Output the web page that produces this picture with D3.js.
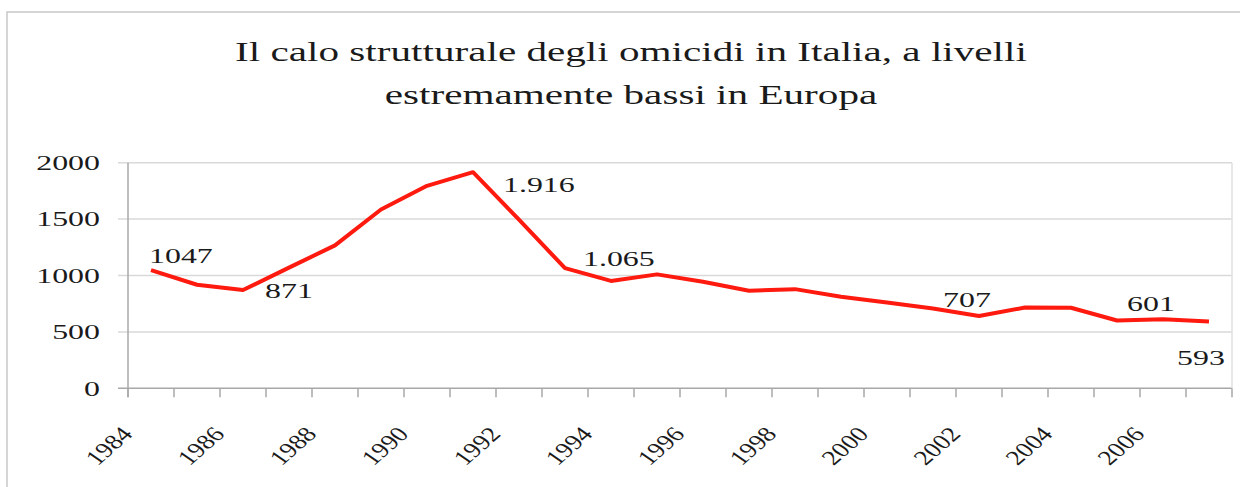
<!DOCTYPE html>
<html>
<head>
<meta charset="utf-8">
<script src="https://cdn.jsdelivr.net/npm/d3@7"></script>
<style>
  body { margin: 0; background: #fff; }
  svg text { font-family: "Liberation Serif", "Times New Roman", serif; fill: #1a1a1a; }
</style>
</head>
<body>
<div id="chart"></div>
<script>
// data
const years = d3.range(1984, 2008);
const homicides = [1047, 918, 871, 1070, 1267, 1585, 1795, 1916, 1495, 1065, 952, 1010, 945, 865, 879, 812, 760, 707, 641, 716, 714, 601, 612, 593];
const yTicks = [0, 500, 1000, 1500, 2000];
const xLabelYears = years.filter(y => y % 2 === 0);
const labelYears = [1984, 1986, 1991, 1993, 2001, 2005, 2007];
const labelTexts = ['1047', '871', '1.916', '1.065', '707', '601', '593'];
const titleLines = ['Il calo strutturale degli omicidi in Italia, a livelli', 'estremamente bassi in Europa'];

// label offsets from the point (left x, baseline y)
const labelOffsets = [[-2, -7], [22, 8], [30, 20], [18, -2], [10, -2], [10, -10], [-32, 44]];

const W = 1240, H = 487;
const sx = 1.45; // the picture is stretched sideways
const plot = {left: 128, right: 1232, top: 162.7, bottom: 388.3};

const svg = d3.select('#chart').append('svg')
    .attr('width', W)
    .attr('height', H);

// outer frame
svg.append('rect')
    .attr('x', 7).attr('y', 12)
    .attr('width', W + 20).attr('height', H + 20)
    .attr('fill', 'none')
    .attr('stroke', '#c8c8c8')
    .attr('stroke-width', 1.5);

// title
svg.selectAll('.title')
    .data(titleLines)
    .enter()
    .append('text')
    .attr('class', 'title')
    .attr('transform', (d, i) => 'translate(631,' + (61 + i * 43) + ') scale(1.47,1)')
    .attr('text-anchor', 'middle')
    .attr('font-size', 28)
    .text(d => d);

const x = d3.scaleBand().domain(years).range([plot.left, plot.right]);
const y = d3.scaleLinear().domain([0, 2000]).range([plot.bottom, plot.top]);
const cx = d => x(d) + x.bandwidth() / 2;

// gridlines
svg.append('g')
    .selectAll('line')
    .data(yTicks)
    .enter()
    .append('line')
    .attr('x1', plot.left - 10)
    .attr('x2', plot.right)
    .attr('y1', d => y(d))
    .attr('y2', d => y(d))
    .attr('stroke', d => d === 0 ? '#a8a8a8' : '#d9d9d9')
    .attr('stroke-width', 1.5);

// right border of plot
svg.append('line')
    .attr('x1', plot.right).attr('x2', plot.right)
    .attr('y1', plot.top).attr('y2', plot.bottom)
    .attr('stroke', '#e0e0e0')
    .attr('stroke-width', 1.5);

// y axis line
svg.append('line')
    .attr('x1', plot.left).attr('x2', plot.left)
    .attr('y1', plot.top).attr('y2', plot.bottom + 9)
    .attr('stroke', '#a8a8a8')
    .attr('stroke-width', 1.5);

// x ticks at category boundaries
svg.append('g')
    .selectAll('line')
    .data(years.concat([null]))
    .enter()
    .append('line')
    .attr('x1', d => d === null ? plot.right : x(d))
    .attr('x2', d => d === null ? plot.right : x(d))
    .attr('y1', plot.bottom)
    .attr('y2', plot.bottom + 9)
    .attr('stroke', '#a8a8a8')
    .attr('stroke-width', 1.5);

// y labels
svg.append('g')
    .selectAll('text')
    .data(yTicks)
    .enter()
    .append('text')
    .attr('transform', d => 'translate(100,' + y(d) + ') scale(' + sx + ',1)')
    .attr('text-anchor', 'end')
    .attr('dy', '0.33em')
    .attr('font-size', 22)
    .text(d => d);

// x labels
svg.append('g')
    .selectAll('text')
    .data(xLabelYears)
    .enter()
    .append('text')
    .attr('transform', d => 'translate(' + (cx(d) - 17) + ',435) scale(1.3,1) rotate(-48)')
    .attr('text-anchor', 'end')
    .attr('font-size', 21)
    .text(d => d);

// line
const line = d3.line()
    .x((d, i) => cx(years[i]))
    .y(d => y(d));

svg.append('path')
    .datum(homicides)
    .attr('d', line)
    .attr('fill', 'none')
    .attr('stroke', '#ff1a0f')
    .attr('stroke-width', 4)
    .attr('stroke-linejoin', 'round');

// value labels
svg.append('g')
    .selectAll('text')
    .data(labelYears)
    .enter()
    .append('text')
    .attr('transform', (d, i) => {
        const v = homicides[years.indexOf(d)];
        return 'translate(' + (cx(d) + labelOffsets[i][0]) + ',' + (y(v) + labelOffsets[i][1]) + ') scale(' + sx + ',1)';
    })
    .attr('font-size', 22)
    .text((d, i) => labelTexts[i]);
</script>
</body>
</html>
